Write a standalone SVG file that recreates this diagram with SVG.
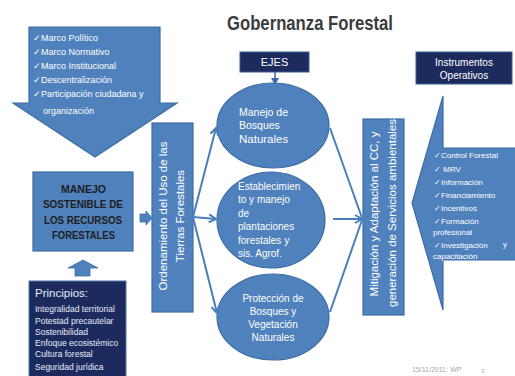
<svg xmlns="http://www.w3.org/2000/svg" width="515" height="376" viewBox="0 0 515 376">
<style>
.blue{fill:#4f81bd;stroke:#3c6da6;stroke-width:1.2}
.navy{fill:#1c2a5e;stroke:#3c5c94;stroke-width:1}
.w{fill:#ffffff;font-family:"Liberation Sans",Arial,sans-serif}
.con{stroke:#4a7ebb;stroke-width:2;fill:none}
</style>
<defs>
<marker id="va" markerWidth="10" markerHeight="10" refX="8" refY="5" orient="auto" markerUnits="userSpaceOnUse">
<path d="M1,1 L8,5 L1,9" fill="none" stroke="#4a7ebb" stroke-width="2"/>
</marker>
<marker id="fa" markerWidth="8" markerHeight="8" refX="6" refY="4" orient="auto" markerUnits="userSpaceOnUse">
<path d="M0,0 L7,4 L0,8 Z" fill="#3a6aa8"/>
</marker>
</defs>
<rect width="515" height="376" fill="#ffffff"/>
<text x="310" y="30" text-anchor="middle" font-family="Liberation Sans,Arial,sans-serif" font-weight="bold" font-size="21" fill="#3c3c3c" textLength="166" lengthAdjust="spacingAndGlyphs">Gobernanza Forestal</text>

<g id="marco">
<polygon class="blue" points="29,27 160,27 160,103 177,103 95,157 13,103 29,103"/>
<g class="w" font-size="9">
<text x="33" y="41">✓Marco Político</text>
<text x="33" y="55">✓Marco Normativo</text>
<text x="33" y="69">✓Marco Institucional</text>
<text x="33" y="83">✓Descentralización</text>
<text x="33" y="97">✓Participación ciudadana y</text>
<text x="43" y="114">organización</text>
</g>
</g>

<g id="manejo">
<rect class="blue" x="33" y="172" width="100" height="79"/>
<g font-family="Liberation Sans,Arial,sans-serif" font-size="11.5" font-weight="600" fill="#1e1e1e" lengthAdjust="spacingAndGlyphs">
<text x="61" y="192.5" textLength="45" lengthAdjust="spacingAndGlyphs">MANEJO</text>
<text x="43" y="207.5" textLength="80" lengthAdjust="spacingAndGlyphs">SOSTENIBLE DE</text>
<text x="44" y="223.5" textLength="78" lengthAdjust="spacingAndGlyphs">LOS RECURSOS</text>
<text x="52" y="238.5" textLength="63" lengthAdjust="spacingAndGlyphs">FORESTALES</text>
</g>
</g>

<g id="principios">
<rect x="29" y="281" width="97" height="97" fill="#1c2a5e" stroke="#5577aa" stroke-width="1"/>
<g fill="#e8ecf5" font-family="Liberation Sans,Arial,sans-serif">
<text x="35" y="297" font-size="11.5">Principios:</text>
<g font-size="8.5">
<text x="35" y="312">Integralidad territorial</text>
<text x="35" y="323.5">Potestad precautelar</text>
<text x="35" y="335">Sostenibilidad</text>
<text x="35" y="346">Enfoque ecosistémico</text>
<text x="35" y="357">Cultura forestal</text>
<text x="35" y="370">Seguridad jurídica</text>
</g>
</g>
</g>

<g id="ordenamiento">
<rect class="blue" x="152" y="123" width="41" height="189"/>
<g class="w" font-size="11.5" text-anchor="middle">
<text transform="translate(167,216) rotate(-90)">Ordenamiento del Uso de las</text>
<text transform="translate(184,216) rotate(-90)">Tierras Forestales</text>
</g>
</g>

<g id="ejes">
<rect class="navy" x="240" y="52" width="69" height="20"/>
<text class="w" x="274.5" y="66" font-size="11" text-anchor="middle">EJES</text>
</g>

<g id="eje1">
<ellipse class="blue" cx="273" cy="125.5" rx="56" ry="42.5"/>
<g class="w" font-size="10.5">
<text x="239" y="116">Manejo de</text>
<text x="239" y="129">Bosques</text>
<text x="239" y="143" font-size="11.5">Naturales</text>
</g>
</g>

<g id="eje2">
<ellipse class="blue" cx="271" cy="220" rx="54" ry="48"/>
<g class="w" font-size="10">
<text x="238" y="190">Establecimien</text>
<text x="238" y="203">to y manejo</text>
<text x="238" y="217">de</text>
<text x="238" y="230">plantaciones</text>
<text x="238" y="244">forestales y</text>
<text x="238" y="257">sis. Agrof.</text>
</g>
</g>

<g id="eje3">
<ellipse class="blue" cx="273" cy="317" rx="56" ry="43"/>
<g class="w" font-size="10" text-anchor="middle">
<text x="273" y="302">Protección de</text>
<text x="273" y="315">Bosques y</text>
<text x="273" y="328">Vegetación</text>
<text x="273" y="341">Naturales</text>
</g>
</g>

<g id="mitigacion">
<rect class="blue" x="363" y="119" width="41" height="196"/>
<g class="w" font-size="11.5" text-anchor="middle">
<text transform="translate(378,214) rotate(-90)">Mitigación y Adaptación al CC, y</text>
<text transform="translate(396,213) rotate(-90)">generación de Servicios ambientales</text>
</g>
</g>

<g id="instrumentos">
<rect class="navy" x="416" y="52" width="96" height="32"/>
<g class="w" font-size="10" text-anchor="middle">
<text x="464" y="65.5">Instrumentos</text>
<text x="464" y="79">Operativos</text>
</g>
</g>

<g id="instrumentos-lista">
<polygon class="blue" points="443,96 443,148 517,148 517,260 443,260 443,310 412,203"/>
<g class="w" font-size="8">
<text x="434" y="158">✓Control Forestal</text>
<text x="434" y="172">✓ MRV</text>
<text x="434" y="185">✓Información</text>
<text x="434" y="198">✓Financiamiento</text>
<text x="434" y="211">✓Incentivos</text>
<text x="434" y="224">✓Formación</text>
<text x="433" y="235">profesional</text>
<text x="434" y="248">✓Investigación</text>
<text x="433" y="259">capacitación</text>
<text x="503" y="247">y</text>
</g>
</g>

<g id="conectores">
<polygon points="140,214 146,214 146,211 152,218 146,225 146,222 140,222" fill="#4f81bd" stroke="#3c6da6" stroke-width="0.8"/>
<polygon points="75,276 75,268 68,268 83,260 98,268 90,268 90,276" fill="#4f81bd" stroke="#3c6da6" stroke-width="0.8"/>
<line x1="275" y1="72" x2="275" y2="84" stroke="#3a6aa8" stroke-width="1.5" marker-end="url(#fa)"/>
<line class="con" x1="193" y1="217" x2="216" y2="128" marker-end="url(#va)"/>
<line class="con" x1="193" y1="217" x2="216" y2="219" marker-end="url(#va)"/>
<line class="con" x1="193" y1="217" x2="217" y2="313" marker-end="url(#va)"/>
<line class="con" x1="330" y1="128" x2="362" y2="218"/>
<line class="con" x1="333" y1="219" x2="362" y2="219" marker-end="url(#va)"/>
<line class="con" x1="330" y1="312" x2="362" y2="220"/>
</g>

<g font-family="Liberation Sans,Arial,sans-serif" fill="#a6a6a6" font-size="7">
<text x="412" y="372">15/11/2011: WP</text>
<text x="481" y="373" font-size="6">3</text>
</g>
</svg>
